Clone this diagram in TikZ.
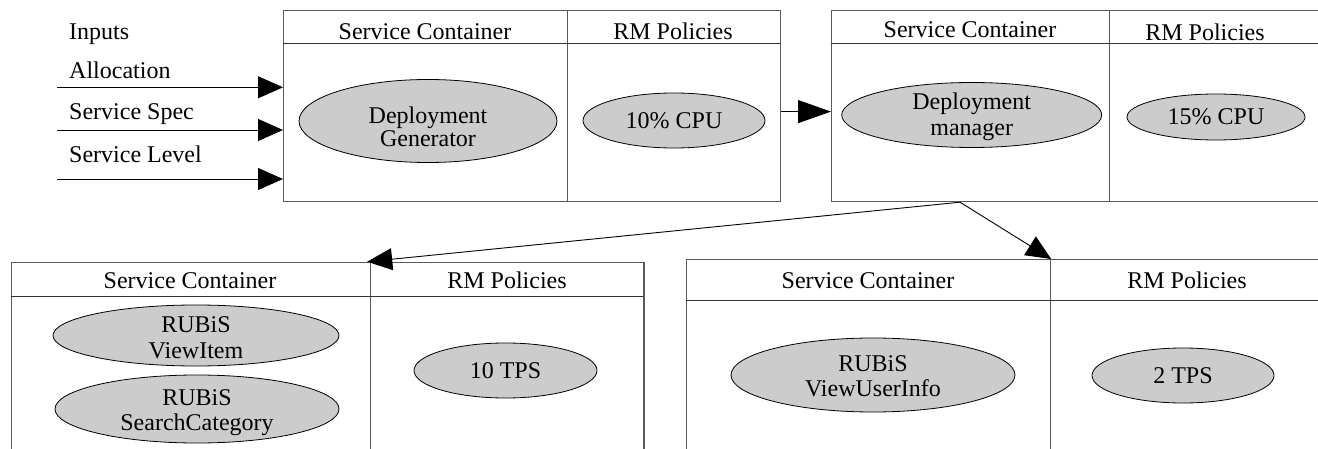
\documentclass[tikz,border=0pt]{standalone}
\usepackage{fontspec}
\setmainfont{Liberation Serif}
\usetikzlibrary{shapes.geometric,arrows.meta}
\definecolor{boxline}{HTML}{5A5A5A}
\definecolor{ellfill}{HTML}{CCCCCC}
\newcommand{\twolines}[3]{\vtop{\baselineskip=#3pt\halign{\hfil##\hfil\cr #1\cr #2\cr}}}
\begin{document}
\begin{tikzpicture}[x=1pt,y=-1pt,
  every node/.style={font=\fontsize{24}{27}\selectfont},
  cell/.style={draw=boxline,line width=1.2pt,rectangle,anchor=north west,inner sep=0pt},
  hline/.style={draw=black!80,line width=1pt},
  ell/.style={draw=black,line width=0.8pt,fill=ellfill,ellipse,inner sep=0pt},
  lbl/.style={anchor=base,inner sep=0pt},
  inlbl/.style={anchor=base west,inner sep=0pt},
  conn/.style={draw=black,line width=0.9pt,-{Triangle[length=25pt,width=22pt]}},
  connlong/.style={draw=black,line width=0.9pt,-{Triangle[length=33pt,width=23pt]}}
]
\clip (0,0) rectangle (1318,449);
\fill[white] (0,0) rectangle (1318,449);

% ---- box 1 ----
\node[cell,minimum width=284pt,minimum height=191pt] (sc1) at (283,10) {};
\node[cell,minimum width=213pt,minimum height=191pt] (rm1) at (567,10) {};
\draw[hline] (283,44) -- (780,44);
\node[lbl] (sc1t) at (425,40) {Service Container};
\node[lbl] (rm1t) at (673,40) {RM Policies};
\node[ell,minimum width=258pt,minimum height=83pt] (dg) at (428,121) {};
\node[lbl] (dgt) at (428,124) {\twolines{Deployment}{Generator}{23}};
\node[ell,minimum width=182pt,minimum height=55pt] (cpu10) at (674,120.5) {};
\node[lbl] (cpu10t) at (674,129) {10\% CPU};

% ---- box 2 ----
\node[cell,minimum width=278pt,minimum height=191pt] (sc2) at (831,10) {};
\node[cell,minimum width=260pt,minimum height=191pt] (rm2) at (1109,10) {};
\draw[hline] (831,44) -- (1369,44);
\node[lbl] (sc2t) at (970,37.7) {Service Container};
\node[lbl] (rm2t) at (1205,41) {RM Policies};
\node[ell,minimum width=260pt,minimum height=65pt] (dm) at (971.7,115) {};
\node[lbl] (dmt) at (971.7,110) {\twolines{Deployment}{manager}{26}};
\node[ell,minimum width=178pt,minimum height=46pt] (cpu15) at (1216,117) {};
\node[lbl] (cpu15t) at (1216,125) {15\% CPU};

% ---- box 3 ----
\node[cell,minimum width=359.3pt,minimum height=250pt] (sc3) at (10.7,261.7) {};
\node[cell,minimum width=273.3pt,minimum height=250pt] (rm3) at (370,261.7) {};
\draw[hline] (10.7,296.7) -- (643.3,296.7);
\node[lbl] (sc3t) at (190,288.3) {Service Container};
\node[lbl] (rm3t) at (507,288.3) {RM Policies};
\node[ell,minimum width=286pt,minimum height=61pt] (vi) at (196,335.5) {};
\node[lbl] (vit) at (196,332.7) {\twolines{RUBiS}{ViewItem}{25.6}};
\node[ell,minimum width=284pt,minimum height=68pt] (scat) at (197,409) {};
\node[lbl] (scatt) at (197,405) {\twolines{RUBiS}{SearchCategory}{25}};
\node[ell,minimum width=183pt,minimum height=55pt] (tps10) at (505.5,370.5) {};
\node[lbl] (tps10t) at (505.5,378.3) {10 TPS};

% ---- box 4 ----
\node[cell,minimum width=364pt,minimum height=250pt] (sc4) at (686,259) {};
\node[cell,minimum width=300pt,minimum height=250pt] (rm4) at (1050,259) {};
\draw[hline] (686,301) -- (1350,301);
\node[lbl] (sc4t) at (868,288) {Service Container};
\node[lbl] (rm4t) at (1187,289) {RM Policies};
\node[ell,minimum width=284pt,minimum height=74pt] (vui) at (873,375) {};
\node[lbl] (vuit) at (873,371.7) {\twolines{RUBiS}{ViewUserInfo}{25}};
\node[ell,minimum width=182pt,minimum height=55pt] (tps2) at (1183,375.5) {};
\node[lbl] (tps2t) at (1183,383.3) {2 TPS};

% ---- inputs ----
\node[inlbl] (inputs) at (69,39.3) {Inputs};
\node[inlbl] (alloc) at (69,78.3) {Allocation};
\node[inlbl] (spec) at (69,119.3) {Service Spec};
\node[inlbl] (level) at (69,162.7) {Service Level};
\coordinate (in1) at (57,87.3);
\coordinate (in2) at (57,130);
\coordinate (in3) at (57,179);
\draw[conn] (in1) -- (in1 -| sc1.west);
\draw[conn] (in2) -- (in2 -| sc1.west);
\draw[conn] (in3) -- (in3 -| sc1.west);

% ---- connectors ----
\draw[connlong] ([yshift=-5.5pt]rm1.east) -- ([yshift=-5.5pt]rm1.east -| sc2.west);
\coordinate (out2) at ([xshift=129pt]sc2.south west);
\draw[conn] (out2) -- ([xshift=-4pt]sc3.north east);
\draw[conn] (out2) -- (sc4.north east);
\end{tikzpicture}
\end{document}
